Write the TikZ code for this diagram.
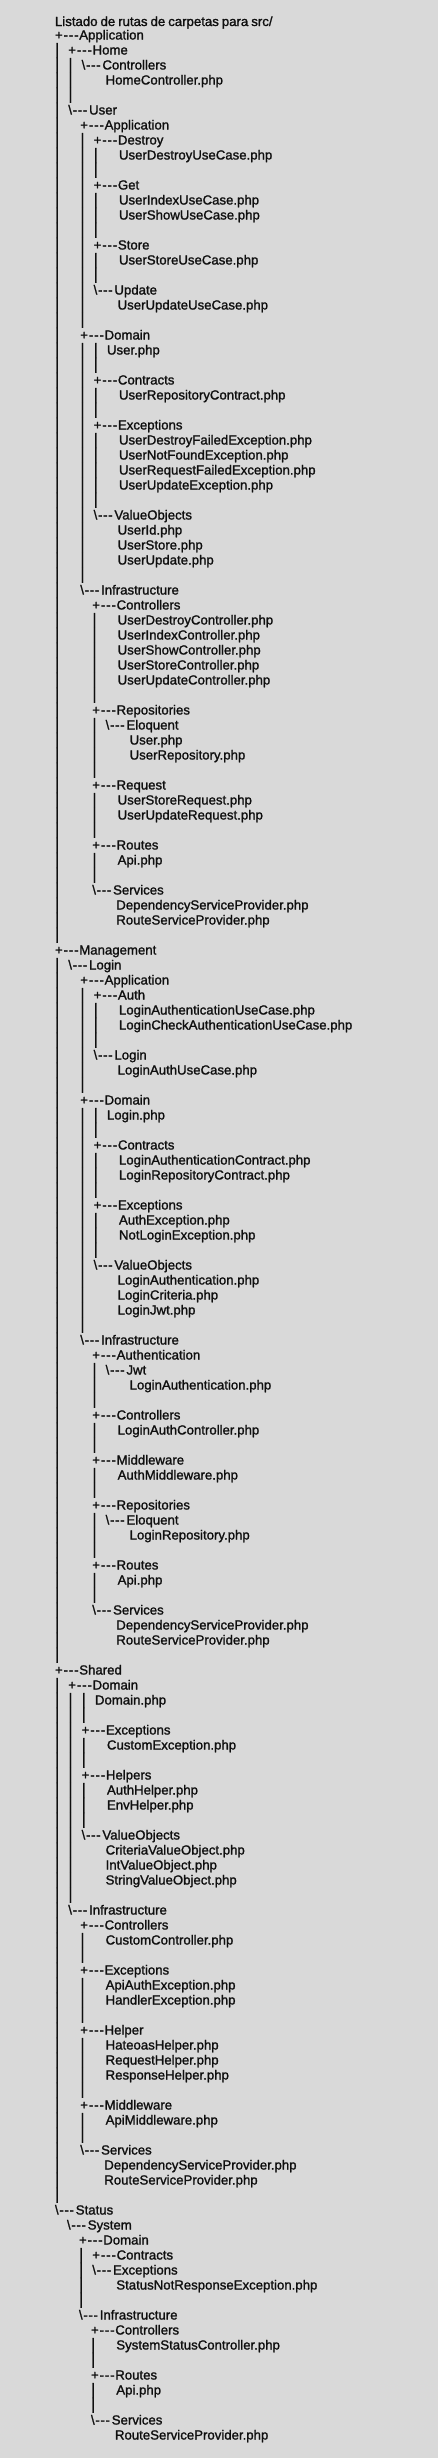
\documentclass[tikz,border=0pt]{standalone}
\usepackage{fontspec}
\usepackage{graphicx}
\newfontfamily\treefont{Liberation Sans}[FakeBold=1.4]
\definecolor{bg}{RGB}{217,217,217}
\definecolor{ink}{RGB}{15,15,15}
\newcommand\trV{\makebox[4.33pt][c]{\scalebox{1.15}[1.2]{|}}\hspace{9pt}}
\newcommand\trE{\hspace{12pt}}
\newcommand\trP{\makebox[24.3pt][l]{+\kern0.9pt-\kern0.9pt-\kern0.9pt-}}
\newcommand\trS{\makebox[20.8pt][l]{\textbackslash\kern0.7pt-\kern0.7pt-\kern0.7pt-}}
\newcommand\R[2]{\node[row] (l#1) at (55,{39.5+15*(#1-1)}) {#2};}
\tikzset{row/.style={anchor=base west, inner sep=0pt, outer sep=0pt, text=ink,
  font=\treefont\fontsize{13.2}{15}\selectfont}}
\begin{document}
\begin{tikzpicture}[x=1pt,y=-1pt]
\path[fill=bg] (0,0) rectangle (438,2458);
\node[row] (title) at (55,26) {\spaceskip=3pt\relax Listado de rutas de carpetas para src/};
\R{1}{\trP Application}
\R{2}{\trV\trP Home}
\R{3}{\trV\trV\trS Controllers}
\R{4}{\trV\trV\trE\trE HomeController.php}
\R{5}{\trV\trV}
\R{6}{\trV\trS User}
\R{7}{\trV\trE\trP Application}
\R{8}{\trV\trE\trV\trP Destroy}
\R{9}{\trV\trE\trV\trV\trE UserDestroyUseCase.php}
\R{10}{\trV\trE\trV\trV}
\R{11}{\trV\trE\trV\trP Get}
\R{12}{\trV\trE\trV\trV\trE UserIndexUseCase.php}
\R{13}{\trV\trE\trV\trV\trE UserShowUseCase.php}
\R{14}{\trV\trE\trV\trV}
\R{15}{\trV\trE\trV\trP Store}
\R{16}{\trV\trE\trV\trV\trE UserStoreUseCase.php}
\R{17}{\trV\trE\trV\trV}
\R{18}{\trV\trE\trV\trS Update}
\R{19}{\trV\trE\trV\trE\trE UserUpdateUseCase.php}
\R{20}{\trV\trE\trV}
\R{21}{\trV\trE\trP Domain}
\R{22}{\trV\trE\trV\trV User.php}
\R{23}{\trV\trE\trV\trV}
\R{24}{\trV\trE\trV\trP Contracts}
\R{25}{\trV\trE\trV\trV\trE UserRepositoryContract.php}
\R{26}{\trV\trE\trV\trV}
\R{27}{\trV\trE\trV\trP Exceptions}
\R{28}{\trV\trE\trV\trV\trE UserDestroyFailedException.php}
\R{29}{\trV\trE\trV\trV\trE UserNotFoundException.php}
\R{30}{\trV\trE\trV\trV\trE UserRequestFailedException.php}
\R{31}{\trV\trE\trV\trV\trE UserUpdateException.php}
\R{32}{\trV\trE\trV\trV}
\R{33}{\trV\trE\trV\trS ValueObjects}
\R{34}{\trV\trE\trV\trE\trE UserId.php}
\R{35}{\trV\trE\trV\trE\trE UserStore.php}
\R{36}{\trV\trE\trV\trE\trE UserUpdate.php}
\R{37}{\trV\trE\trV}
\R{38}{\trV\trE\trS Infrastructure}
\R{39}{\trV\trE\trE\trP Controllers}
\R{40}{\trV\trE\trE\trV\trE UserDestroyController.php}
\R{41}{\trV\trE\trE\trV\trE UserIndexController.php}
\R{42}{\trV\trE\trE\trV\trE UserShowController.php}
\R{43}{\trV\trE\trE\trV\trE UserStoreController.php}
\R{44}{\trV\trE\trE\trV\trE UserUpdateController.php}
\R{45}{\trV\trE\trE\trV}
\R{46}{\trV\trE\trE\trP Repositories}
\R{47}{\trV\trE\trE\trV\trS Eloquent}
\R{48}{\trV\trE\trE\trV\trE\trE User.php}
\R{49}{\trV\trE\trE\trV\trE\trE UserRepository.php}
\R{50}{\trV\trE\trE\trV}
\R{51}{\trV\trE\trE\trP Request}
\R{52}{\trV\trE\trE\trV\trE UserStoreRequest.php}
\R{53}{\trV\trE\trE\trV\trE UserUpdateRequest.php}
\R{54}{\trV\trE\trE\trV}
\R{55}{\trV\trE\trE\trP Routes}
\R{56}{\trV\trE\trE\trV\trE Api.php}
\R{57}{\trV\trE\trE\trV}
\R{58}{\trV\trE\trE\trS Services}
\R{59}{\trV\trE\trE\trE\trE DependencyServiceProvider.php}
\R{60}{\trV\trE\trE\trE\trE RouteServiceProvider.php}
\R{61}{\trV}
\R{62}{\trP Management}
\R{63}{\trV\trS Login}
\R{64}{\trV\trE\trP Application}
\R{65}{\trV\trE\trV\trP Auth}
\R{66}{\trV\trE\trV\trV\trE LoginAuthenticationUseCase.php}
\R{67}{\trV\trE\trV\trV\trE LoginCheckAuthenticationUseCase.php}
\R{68}{\trV\trE\trV\trV}
\R{69}{\trV\trE\trV\trS Login}
\R{70}{\trV\trE\trV\trE\trE LoginAuthUseCase.php}
\R{71}{\trV\trE\trV}
\R{72}{\trV\trE\trP Domain}
\R{73}{\trV\trE\trV\trV Login.php}
\R{74}{\trV\trE\trV\trV}
\R{75}{\trV\trE\trV\trP Contracts}
\R{76}{\trV\trE\trV\trV\trE LoginAuthenticationContract.php}
\R{77}{\trV\trE\trV\trV\trE LoginRepositoryContract.php}
\R{78}{\trV\trE\trV\trV}
\R{79}{\trV\trE\trV\trP Exceptions}
\R{80}{\trV\trE\trV\trV\trE AuthException.php}
\R{81}{\trV\trE\trV\trV\trE NotLoginException.php}
\R{82}{\trV\trE\trV\trV}
\R{83}{\trV\trE\trV\trS ValueObjects}
\R{84}{\trV\trE\trV\trE\trE LoginAuthentication.php}
\R{85}{\trV\trE\trV\trE\trE LoginCriteria.php}
\R{86}{\trV\trE\trV\trE\trE LoginJwt.php}
\R{87}{\trV\trE\trV}
\R{88}{\trV\trE\trS Infrastructure}
\R{89}{\trV\trE\trE\trP Authentication}
\R{90}{\trV\trE\trE\trV\trS Jwt}
\R{91}{\trV\trE\trE\trV\trE\trE LoginAuthentication.php}
\R{92}{\trV\trE\trE\trV}
\R{93}{\trV\trE\trE\trP Controllers}
\R{94}{\trV\trE\trE\trV\trE LoginAuthController.php}
\R{95}{\trV\trE\trE\trV}
\R{96}{\trV\trE\trE\trP Middleware}
\R{97}{\trV\trE\trE\trV\trE AuthMiddleware.php}
\R{98}{\trV\trE\trE\trV}
\R{99}{\trV\trE\trE\trP Repositories}
\R{100}{\trV\trE\trE\trV\trS Eloquent}
\R{101}{\trV\trE\trE\trV\trE\trE LoginRepository.php}
\R{102}{\trV\trE\trE\trV}
\R{103}{\trV\trE\trE\trP Routes}
\R{104}{\trV\trE\trE\trV\trE Api.php}
\R{105}{\trV\trE\trE\trV}
\R{106}{\trV\trE\trE\trS Services}
\R{107}{\trV\trE\trE\trE\trE DependencyServiceProvider.php}
\R{108}{\trV\trE\trE\trE\trE RouteServiceProvider.php}
\R{109}{\trV}
\R{110}{\trP Shared}
\R{111}{\trV\trP Domain}
\R{112}{\trV\trV\trV Domain.php}
\R{113}{\trV\trV\trV}
\R{114}{\trV\trV\trP Exceptions}
\R{115}{\trV\trV\trV\trE CustomException.php}
\R{116}{\trV\trV\trV}
\R{117}{\trV\trV\trP Helpers}
\R{118}{\trV\trV\trV\trE AuthHelper.php}
\R{119}{\trV\trV\trV\trE EnvHelper.php}
\R{120}{\trV\trV\trV}
\R{121}{\trV\trV\trS ValueObjects}
\R{122}{\trV\trV\trE\trE CriteriaValueObject.php}
\R{123}{\trV\trV\trE\trE IntValueObject.php}
\R{124}{\trV\trV\trE\trE StringValueObject.php}
\R{125}{\trV\trV}
\R{126}{\trV\trS Infrastructure}
\R{127}{\trV\trE\trP Controllers}
\R{128}{\trV\trE\trV\trE CustomController.php}
\R{129}{\trV\trE\trV}
\R{130}{\trV\trE\trP Exceptions}
\R{131}{\trV\trE\trV\trE ApiAuthException.php}
\R{132}{\trV\trE\trV\trE HandlerException.php}
\R{133}{\trV\trE\trV}
\R{134}{\trV\trE\trP Helper}
\R{135}{\trV\trE\trV\trE HateoasHelper.php}
\R{136}{\trV\trE\trV\trE RequestHelper.php}
\R{137}{\trV\trE\trV\trE ResponseHelper.php}
\R{138}{\trV\trE\trV}
\R{139}{\trV\trE\trP Middleware}
\R{140}{\trV\trE\trV\trE ApiMiddleware.php}
\R{141}{\trV\trE\trV}
\R{142}{\trV\trE\trS Services}
\R{143}{\trV\trE\trE\trE DependencyServiceProvider.php}
\R{144}{\trV\trE\trE\trE RouteServiceProvider.php}
\R{145}{\trV}
\R{146}{\trS Status}
\R{147}{\trE\trS System}
\R{148}{\trE\trE\trP Domain}
\R{149}{\trE\trE\trV\trP Contracts}
\R{150}{\trE\trE\trV\trS Exceptions}
\R{151}{\trE\trE\trV\trE\trE StatusNotResponseException.php}
\R{152}{\trE\trE\trV}
\R{153}{\trE\trE\trS Infrastructure}
\R{154}{\trE\trE\trE\trP Controllers}
\R{155}{\trE\trE\trE\trV\trE SystemStatusController.php}
\R{156}{\trE\trE\trE\trV}
\R{157}{\trE\trE\trE\trP Routes}
\R{158}{\trE\trE\trE\trV\trE Api.php}
\R{159}{\trE\trE\trE\trV}
\R{160}{\trE\trE\trE\trS Services}
\R{161}{\trE\trE\trE\trE\trE RouteServiceProvider.php}
\end{tikzpicture}
\end{document}
